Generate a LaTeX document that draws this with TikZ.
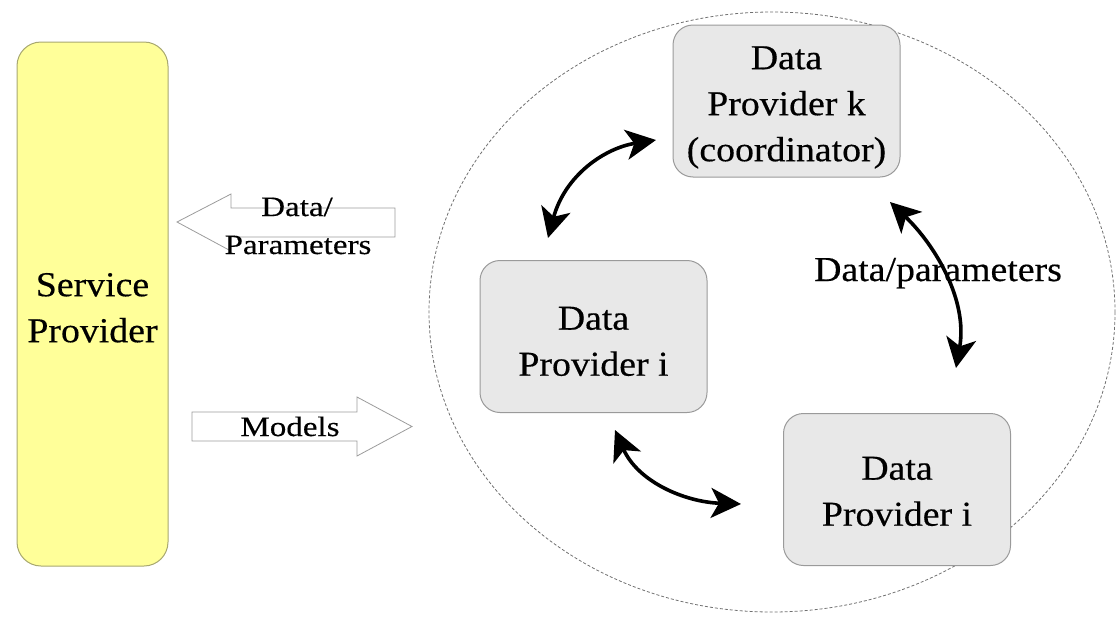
\documentclass[tikz,border=0pt]{standalone}
\usepackage{fontspec}
\setmainfont[FakeStretch=1.08,FakeBold=0.4]{Liberation Serif}
\newfontfamily\lblfont[FakeStretch=1.18,FakeBold=0.3]{Liberation Serif}
\usetikzlibrary{arrows.meta}
\definecolor{dpfill}{HTML}{E8E8E8}
\definecolor{dpline}{HTML}{9A9A9A}
\definecolor{spfill}{HTML}{FFFF99}
\definecolor{spline}{HTML}{A8A870}
\definecolor{hollow}{HTML}{9C9C9C}
\definecolor{ringline}{HTML}{707070}
\newcommand{\lines}[1]{\begin{tabular}{@{}c@{}}#1\end{tabular}}
\tikzset{
  boxtext/.style={inner sep=0pt, font=\rmfamily\fontsize{35}{46}\selectfont, text=black},
  dpbox/.style={draw=dpline, fill=dpfill, rounded corners=20pt, line width=1pt,
    minimum width=227pt, minimum height=152pt, inner sep=0pt},
  spbox/.style={draw=spline, fill=spfill, rounded corners=24pt, line width=1pt,
    minimum width=151pt, minimum height=524pt, inner sep=0pt},
  hollowarrow/.style={draw=hollow, fill=white, line width=0.8pt},
  lbl/.style={inner sep=0pt, anchor=base, font=\lblfont\fontsize{28}{34}\selectfont},
  biglbl/.style={inner sep=0pt, anchor=base, font=\rmfamily\fontsize{35}{46}\selectfont},
  dbl/.style={line width=3.6pt, {Stealth[length=30pt,width=30pt,inset=8pt]}-{Stealth[length=30pt,width=30pt,inset=8pt]}},
  ring/.style={draw=ringline, dash pattern=on 3pt off 2pt, line width=0.8pt}
}
\begin{document}
\begin{tikzpicture}[x=1pt,y=-1pt]
\useasboundingbox (0,0) rectangle (1119,624);
% group ring
\draw[ring] (772,312) ellipse [x radius=343, y radius=300];
% service provider
\node[spbox, label={[boxtext, yshift=-6pt]center:\lines{Service\\Provider}}] (sp) at (92.5,304) {};
% data providers
\node[dpbox, label={[boxtext, yshift=-5pt]center:\lines{Data\\Provider k\\(coordinator)}}] (dpk) at (786.5,101) {};
\node[dpbox, label={[boxtext, yshift=-7pt]center:\lines{Data\\Provider i}}] (dpi) at (593.5,336.5) {};
\node[dpbox, label={[boxtext, yshift=-4pt]center:\lines{Data\\Provider i}}] (dpj) at (897,489.5) {};
% hollow arrows
\draw[hollowarrow] (395,208) -- (231,208) -- (231,194) -- (177,222) -- (229,250) -- (229,237) -- (395,237) -- cycle;
\node[lbl] (lbdata) at (297,216) {Data/};
\node[lbl] (lbpar) at (298,254) {Parameters};
\draw[hollowarrow] (192,412) -- (357,412) -- (357,397) -- (412,426.5) -- (357,456) -- (357,441) -- (192,441) -- cycle;
\node[lbl] (lbmod) at (290,436) {Models};
% curved double arrows
\coordinate (a1s) at (548,238);
\coordinate (a1e) at (656,140);
\draw[dbl] (a1s) .. controls (565,175) and (605,148) .. (a1e);
\coordinate (a2s) at (615,430);
\coordinate (a2e) at (741,504);
\draw[dbl] (a2s) .. controls (638,482) and (685,502) .. (a2e);
\node[biglbl] (dplbl) at (938,281) {Data/parameters};
\coordinate (a3s) at (890,202);
\coordinate (a3e) at (956,368);
\draw[dbl] (a3s) .. controls (935,245) and (968,300) .. (a3e);
\end{tikzpicture}
\end{document}
